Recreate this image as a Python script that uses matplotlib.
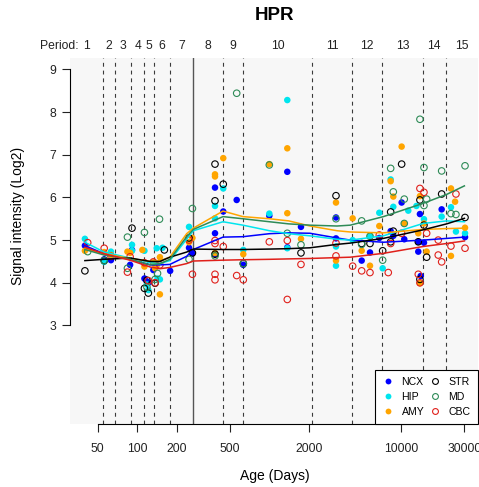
import numpy as np
import matplotlib
matplotlib.use("Agg")
import matplotlib.pyplot as plt
from matplotlib.lines import Line2D
import matplotlib.transforms as mtransforms

plt.rcParams['font.family'] = ['Liberation Sans', 'DejaVu Sans']

# ---------------- data ----------------
title = "HPR"
period_labels = [str(i) for i in range(1, 16)]
# period boundaries (days); the one at birth is drawn solid
period_bounds = [55, 68, 90, 112, 133, 177, 265, 443, 634, 2100, 4250, 7170, 14500, 21600]
birth_age = 265
xticks = [50, 100, 200, 500, 2000, 10000, 30000]
yticks = [3, 4, 5, 6, 7, 8, 9]

regions = ["NCX", "HIP", "AMY", "STR", "MD", "CBC"]

ncx_age = [40, 56, 63, 91, 88, 113, 118, 121, 132, 136, 177, 246, 261, 387, 387, 387, 447, 565, 634,
           998, 1366, 1366, 1734, 3194, 3194, 5000, 5780, 6800, 8290, 8680, 10040, 10510, 13420, 13420,
           13810, 14000, 14820, 20180, 30330]
ncx_val = [4.87, 4.55, 4.53, 4.77, 4.42, 4.10, 4.03, 4.00, 4.30, 4.45, 4.28, 4.82, 4.69, 6.23, 5.16, 4.68,
           5.67, 5.94, 4.42, 5.57, 6.60, 4.83, 5.31, 5.53, 5.04, 4.52, 4.71, 5.05, 5.21, 5.10, 5.88, 5.02,
           4.96, 4.73, 5.61, 4.16, 4.94, 5.72, 5.07]

hip_age = [40, 56, 63, 91, 91, 113, 118, 121, 140, 142, 155, 148, 246, 387, 387, 447, 634, 998, 1366,
           1366, 3194, 3194, 4272, 5780, 6800, 7210, 8680, 8290, 11270, 13000, 14820, 20180, 23730,
           25890, 30330]
hip_val = [5.03, 4.49, 4.73, 4.89, 4.75, 4.75, 3.96, 3.83, 4.81, 4.10, 4.82, 4.08, 5.31, 5.80, 5.51,
           6.21, 4.77, 5.62, 8.28, 4.81, 4.85, 4.40, 5.00, 5.10, 5.64, 4.34, 5.78, 6.42, 5.69, 5.80, 5.49,
           5.55, 5.77, 5.20, 5.16]

amy_age = [40, 56, 63, 84, 88, 109, 113, 132, 136, 140, 148, 148, 246, 261, 387, 387, 387, 447, 634,
           998, 1366, 1366, 1734, 3194, 3194, 4272, 5000, 5780, 6800, 8290, 8680, 10040, 10510, 13420,
           13810, 13810, 14820, 15530, 23730, 23730, 25500, 30330]
amy_val = [4.75, 4.72, 4.65, 4.73, 4.70, 4.77, 4.38, 4.48, 4.34, 4.41, 3.73, 4.60, 4.95, 5.05, 6.54,
           6.49, 4.70, 6.92, 4.67, 6.78, 7.15, 5.63, 5.03, 5.88, 4.52, 5.51, 4.75, 4.40, 5.33, 6.38, 6.02,
           7.19, 5.39, 5.16, 6.03, 3.99, 5.39, 4.73, 4.63, 6.21, 5.90, 5.29]

str_age = [40, 56, 91, 113, 118, 121, 136, 160, 246, 261, 387, 387, 387, 447, 634, 1734, 3194, 5000,
           5780, 7210, 8290, 8290, 8680, 10040, 13420, 13810, 13810, 14820, 15530, 20180, 30330]
str_val = [4.28, 4.52, 5.28, 3.87, 4.06, 3.76, 3.99, 4.77, 5.05, 4.70, 6.78, 5.92, 4.67, 6.31, 4.45,
           4.70, 6.04, 4.92, 4.92, 4.75, 5.66, 4.96, 5.21, 6.78, 4.96, 5.94, 4.08, 5.35, 4.60, 6.08, 5.53]

md_age = [42, 56, 84, 84, 113, 118, 142, 136, 147, 261, 246, 387, 565, 634, 998, 1366, 1734, 3194,
          5000, 5000, 5780, 7210, 8290, 8680, 10510, 10510, 13810, 14820, 14820, 15530, 20180, 23730,
          25890, 30330]
md_val = [4.73, 4.52, 5.07, 4.34, 5.18, 3.90, 4.22, 4.08, 5.49, 5.74, 4.55, 4.63, 8.44, 4.45, 6.76,
          5.16, 4.89, 5.50, 5.45, 4.90, 5.09, 4.53, 6.68, 6.13, 5.96, 5.39, 7.83, 6.70, 5.81, 5.96, 6.62,
          5.62, 5.60, 6.74]

cbc_age = [42, 56, 63, 84, 88, 121, 113, 136, 132, 148, 246, 261, 387, 387, 387, 387, 447, 565, 634,
           998, 1366, 1366, 1734, 3194, 3194, 4272, 5000, 5780, 6800, 7950, 8290, 10040, 13420, 13810,
           14820, 13810, 15530, 19010, 19010, 20180, 23730, 25890, 30330]
cbc_val = [4.94, 4.81, 4.62, 4.25, 4.61, 4.05, 4.47, 4.00, 4.49, 4.42, 5.00, 4.20, 4.99, 4.92, 4.20,
           4.07, 4.85, 4.17, 4.07, 4.96, 4.99, 3.61, 4.43, 4.93, 4.63, 4.39, 4.28, 4.24, 5.12, 4.24, 4.92,
           5.16, 4.20, 6.21, 6.12, 4.00, 5.16, 5.00, 4.65, 4.49, 4.86, 6.08, 4.81]

# smoothed trend per region, sampled at these ages
fit_age = [40, 56, 88, 125, 148, 176, 236, 265, 445, 630, 1000, 1400, 2030, 3250, 4100, 7300, 14600,
           22000, 30000]
ncx_fit = [4.87, 4.68, 4.55, 4.42, 4.42, 4.43, 4.62, 4.78, 5.07, 5.08, 5.15, 5.17, 5.16, 5.05, 5.00,
           4.95, 5.00, 5.04, 5.07]
hip_fit = [4.95, 4.72, 4.58, 4.47, 4.45, 4.52, 5.02, 5.22, 5.43, 5.35, 5.22, 5.15, 5.10, 5.02, 5.00,
           5.10, 5.39, 5.45, 5.43]
amy_fit = [4.80, 4.68, 4.57, 4.50, 4.52, 4.60, 5.15, 5.28, 5.68, 5.55, 5.50, 5.45, 5.33, 5.22, 5.19,
           5.17, 5.25, 5.27, 5.28]
str_fit = [4.52, 4.55, 4.58, 4.50, 4.50, 4.60, 4.72, 4.79, 4.78, 4.78, 4.79, 4.80, 4.82, 4.90, 4.93,
           5.04, 5.24, 5.38, 5.51]
md_fit = [4.78, 4.65, 4.55, 4.42, 4.45, 4.55, 5.08, 5.25, 5.55, 5.50, 5.43, 5.38, 5.35, 5.33, 5.35,
          5.55, 5.86, 6.07, 6.27]
cbc_fit = [4.83, 4.68, 4.53, 4.37, 4.33, 4.36, 4.45, 4.51, 4.53, 4.54, 4.55, 4.56, 4.57, 4.59, 4.60,
           4.69, 4.85, 4.92, 4.98]

# ---------------- styling ----------------
colors = {"NCX": "#0000FF", "HIP": "#00E5EE", "AMY": "#FFA500",
          "STR": "#000000", "MD": "#2E8B57", "CBC": "#E0201B"}
filled = {"NCX": True, "HIP": True, "AMY": True, "STR": False, "MD": False, "CBC": False}
series = {
    "NCX": (ncx_age, ncx_val, ncx_fit),
    "HIP": (hip_age, hip_val, hip_fit),
    "AMY": (amy_age, amy_val, amy_fit),
    "STR": (str_age, str_val, str_fit),
    "MD": (md_age, md_val, md_fit),
    "CBC": (cbc_age, cbc_val, cbc_fit),
}

W, H = 479, 487
fig = plt.figure(figsize=(W / 100, H / 100), dpi=100)
fig.patch.set_facecolor("white")
ax = fig.add_axes([70 / W, 63 / H, 408 / W, 365.7 / H])
ax.set_facecolor("#F7F7F7")
ax.set_xscale("log")
xmin, xmax = 10 ** 1.4892, 10 ** 4.5802
ax.set_xlim(xmin, xmax)
ax.set_ylim(0.693, 9.258)

# period boundaries
for b in period_bounds:
    if b == birth_age:
        ax.axvline(b, color="#555555", lw=1.0, zorder=1)
    else:
        ax.axvline(b, color="#3a3a3a", lw=0.8, ls=(0, (3.5, 3.5)), zorder=1)

# samples
for r in regions:
    a, v, _ = series[r]
    if filled[r]:
        ax.scatter(a, v, s=22, color=colors[r], edgecolors="none", zorder=3)
    else:
        ax.scatter(a, v, s=22, facecolors="none", edgecolors=colors[r], linewidths=0.8, zorder=3)

# trends
for r in regions:
    _, _, f = series[r]
    ax.plot(fit_age, f, color=colors[r], lw=1.1, zorder=4)

# axes
for s in ["top", "right"]:
    ax.spines[s].set_visible(False)
ax.spines["left"].set_bounds(3, 9)
ax.spines["bottom"].set_bounds(50, 30000)
ax.spines["left"].set_linewidth(0.8)
ax.spines["bottom"].set_linewidth(0.8)
ax.set_xticks(xticks)
ax.set_xticklabels([str(t) for t in xticks])
ax.xaxis.set_minor_locator(matplotlib.ticker.NullLocator())
ax.set_yticks(yticks)
ax.set_yticklabels([str(t) for t in yticks])
ax.tick_params(axis="x", direction="out", length=5.8, width=0.8, pad=8, labelsize=8.7, colors="#222222")
ax.tick_params(axis="y", direction="out", length=5.8, width=0.8, pad=4.3, labelsize=8.7, colors="#222222")

# period labels along the top
edges = [xmin] + period_bounds + [xmax]
trans = mtransforms.blended_transform_factory(ax.transData, ax.transAxes)
for i, lab in enumerate(period_labels):
    xc = np.sqrt(edges[i] * edges[i + 1])
    ax.text(xc, 1.0336, lab, transform=trans, ha="center", va="center", fontsize=8.7, color="#222222")
fig.text(59 / W, 1 - 46 / H, "Period:", ha="center", va="center", fontsize=8.7, color="#222222")

fig.text(274 / W, 1 - 15 / H, title, ha="center", va="center", fontsize=13.5, fontweight="bold")
fig.text(275 / W, 1 - 476 / H, "Age (Days)", ha="center", va="center", fontsize=10)
fig.text(18 / W, 1 - 216 / H, "Signal intensity (Log2)", ha="center", va="center",
         fontsize=10, rotation=90)

# legend
handles = []
for r in regions:
    if filled[r]:
        h = Line2D([], [], ls="none", marker="o", markersize=4.2, color=colors[r], markeredgewidth=0)
    else:
        h = Line2D([], [], ls="none", marker="o", markersize=4.2, markerfacecolor="none",
                   markeredgecolor=colors[r], markeredgewidth=0.8)
    handles.append(h)
leg = ax.legend(handles, regions, ncol=2, loc="lower right", bbox_to_anchor=(1.0, 0.0),
                borderaxespad=0, fontsize=7.6, frameon=True, fancybox=False,
                handlelength=1.0, handletextpad=0.8, columnspacing=0.5, labelspacing=0.45,
                borderpad=0.7)
leg.get_frame().set_edgecolor("black")
leg.get_frame().set_linewidth(0.8)
leg.get_frame().set_facecolor("white")
leg.get_frame().set_alpha(1)
leg.set_zorder(6)

fig.savefig("out.png", dpi=100)
